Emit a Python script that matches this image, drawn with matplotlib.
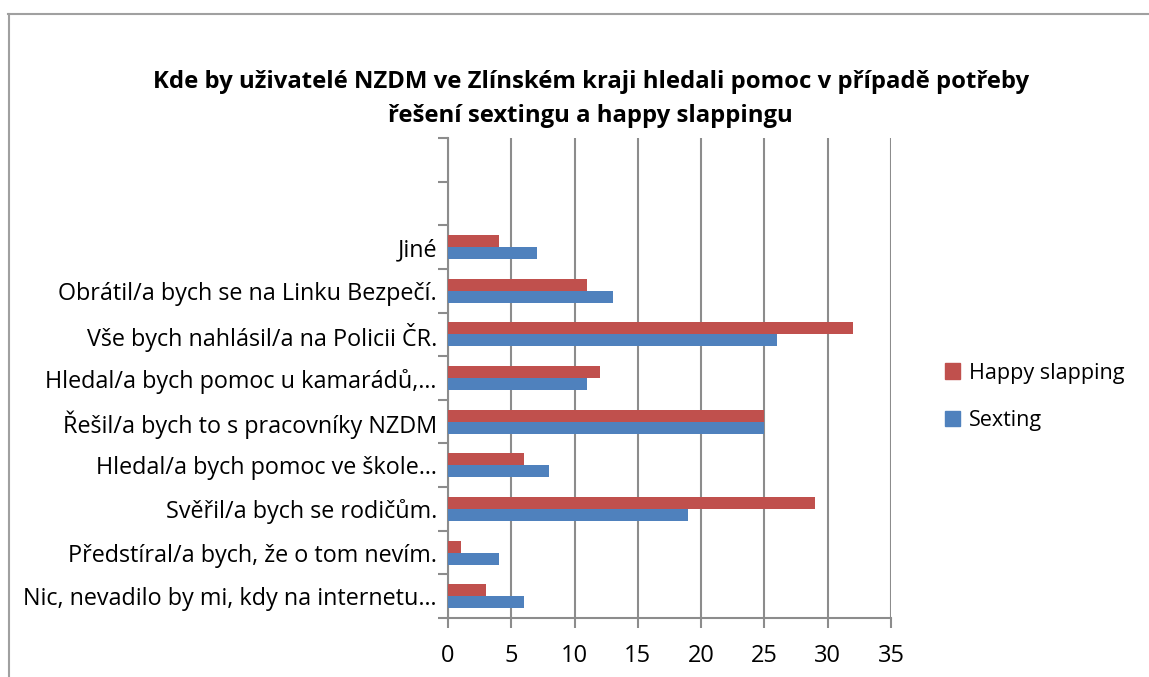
import numpy as np
import matplotlib
matplotlib.use('Agg')
import matplotlib.pyplot as plt
from matplotlib.lines import Line2D

plt.rcParams['font.family'] = ['Open Sans', 'DejaVu Sans']

# kategorie odspodu nahoru (dvě prázdné pozice nahoře jako v originálu)
categories = ['Nic, nevadilo by mi, kdy na internetu…',
              'Předstíral/a bych, že o tom nevím.',
              'Svěřil/a bych se rodičům.',
              'Hledal/a bych pomoc ve škole…',
              'Řešil/a bych to s pracovníky NZDM',
              'Hledal/a bych pomoc u kamarádů,…',
              'Vše bych nahlásil/a na Policii ČR.',
              'Obrátil/a bych se na Linku Bezpečí.',
              'Jiné',
              '', '']
sexting = [6, 4, 19, 8, 25, 11, 26, 13, 7]
happy_slapping = [3, 1, 29, 6, 25, 12, 32, 11, 4]
xticks = [0, 5, 10, 15, 20, 25, 30, 35]

RED = '#C0504D'
BLUE = '#4F81BD'
GRID = '#8C8C8C'

fig = plt.figure(figsize=(11.49, 6.77), dpi=100)
ax = fig.add_axes([448/1149, 1 - 618/677, (891-448)/1149, (618-138)/677])

n = len(categories)
y = np.arange(len(sexting))
h = 0.275
ax.barh(y - h/2, sexting, height=h, color=BLUE, zorder=3, label='Sexting')
ax.barh(y + h/2, happy_slapping, height=h, color=RED, zorder=3, label='Happy slapping')

ax.set_xlim(0, 35)
ax.set_ylim(-0.5, n - 0.5)
ax.set_xticks(xticks)
ax.set_xticklabels([str(v) for v in xticks], fontsize=17)
ax.set_yticks(np.arange(n))
ax.set_yticklabels(categories, fontsize=16.8)
ax.set_yticks(np.arange(n + 1) - 0.5, minor=True)
ax.tick_params(axis='y', which='major', length=0, pad=8)
ax.tick_params(axis='y', which='minor', length=7, width=1.5, color=GRID)
ax.tick_params(axis='x', length=7, width=1.5, color=GRID, pad=12)
ax.grid(axis='x', color=GRID, linewidth=1.5, zorder=0)

for s in ['top', 'right']:
    ax.spines[s].set_visible(False)
for s in ['left', 'bottom']:
    ax.spines[s].set_color(GRID)
    ax.spines[s].set_linewidth(1.5)

fig.text(0.514, 1 - 99/677, 'Kde by uživatelé NZDM ve Zlínském kraji hledali pomoc v případě potřeby\nřešení sextingu a happy slappingu',
         ha='center', va='center', fontsize=17.2, fontweight='bold', linespacing=1.55)

handles = [plt.Rectangle((0, 0), 1, 1, color=RED), plt.Rectangle((0, 0), 1, 1, color=BLUE)]
fig.legend(handles, ['Happy slapping', 'Sexting'], loc='center left',
           bbox_to_anchor=(945/1149, 1 - 397/677), frameon=False, fontsize=15.5,
           borderpad=0, borderaxespad=0,
           handlelength=0.7, handleheight=0.7, handletextpad=0.4, labelspacing=1.25)

# rámeček grafu
fig.add_artist(Line2D([8/1149, 1], [1 - 14/677, 1 - 14/677], color='#A0A0A0', linewidth=1.5))
fig.add_artist(Line2D([9/1149, 9/1149], [0, 1 - 14/677], color='#A0A0A0', linewidth=1.5))

plt.savefig('out.png', dpi=100)
